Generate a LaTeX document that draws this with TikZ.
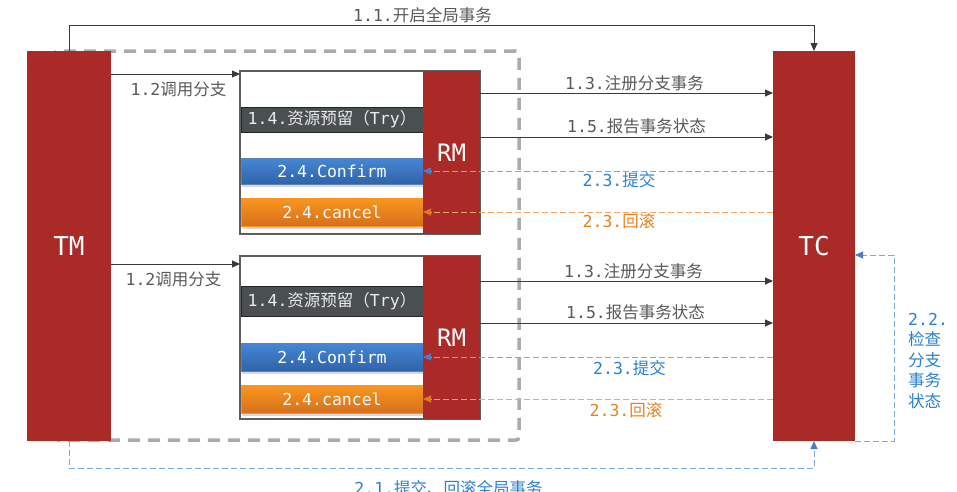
\documentclass[tikz,border=0pt]{standalone}
\usepackage{fontspec}
\setmainfont{DejaVu Sans Mono}
\newfontfamily\cjk{Noto Sans CJK SC}
\usepackage{xcolor}
\usepackage{tikz}
\usetikzlibrary{arrows.meta,shadows}
\definecolor{redC}{HTML}{A92A27}
\definecolor{tryC}{HTML}{4A5051}
\definecolor{blueT}{HTML}{4587D6}
\definecolor{blueB}{HTML}{2F63A8}
\definecolor{orT}{HTML}{FA961F}
\definecolor{orB}{HTML}{D6701C}
\definecolor{grayD}{HTML}{ABABAB}
\definecolor{boxC}{HTML}{5E5E5E}
\definecolor{lineC}{HTML}{3A3A3A}
\definecolor{lineBlue}{HTML}{80A8D8}
\definecolor{tipBlue}{HTML}{4A7EC2}
\definecolor{lineOr}{HTML}{F2A66A}
\definecolor{tipOr}{HTML}{E07A22}
\definecolor{txtC}{HTML}{595959}
\definecolor{txtBlue}{HTML}{2B80CF}
\definecolor{txtOr}{HTML}{E8801F}
\newcommand{\zh}[1]{{\cjk #1}}
\newcommand{\lblfont}{\fontsize{16.5}{20.5}\selectfont}
\newcommand{\lblBegin}{1.1.\zh{开启全局事务}}
\newcommand{\lblCall}{1.2\zh{调用分支}}
\newcommand{\lblReg}{1.3.\zh{注册分支事务}}
\newcommand{\lblTry}{1.4.\zh{资源预留（}Try\zh{）}}
\newcommand{\lblReport}{1.5.\zh{报告事务状态}}
\newcommand{\lblEnd}{2.1.\zh{提交、回滚全局事务}}
\newcommand{\lblCheck}{2.2.\\\zh{检查}\\\zh{分支}\\\zh{事务}\\\zh{状态}}
\newcommand{\lblCommit}{2.3.\zh{提交}}
\newcommand{\lblRollback}{2.3.\zh{回滚}}
\newcommand{\lblConfirm}{2.4.Confirm}
\newcommand{\lblCancel}{2.4.cancel}

\begin{document}
\begin{tikzpicture}[
  x=1pt, y=-1pt,
  >={Triangle[length=8pt,width=7pt]},
  actor/.style  ={fill=redC, text=white, inner sep=0pt, outer sep=0pt,
                  anchor=north west},
  group/.style  ={draw=grayD, line width=3.5pt, dash pattern=on 12pt off 8pt,
                  rounded corners=3pt, anchor=north west, inner sep=0pt,
                  outer sep=0pt, minimum width=464pt, minimum height=389pt},
  branch/.style ={draw=boxC, line width=1.2pt, fill=white, anchor=north west,
                  inner sep=0pt, outer sep=0pt, minimum width=240pt,
                  minimum height=163pt},
  bar/.style    ={anchor=north west, inner sep=0pt, outer sep=0pt,
                  minimum width=182pt, text=white, font=\lblfont},
  trybar/.style ={bar, fill=tryC, draw=black!85, text=white!92!black},
  shad/.style   ={drop shadow={opacity=0.3, shadow xshift=1pt, shadow yshift=-3pt}},
  okbar/.style  ={bar, shad, top color=blueT, bottom color=blueB, draw=blueB!80},
  nobar/.style  ={bar, shad, top color=orT, bottom color=orB, draw=orT},
  flow/.style   ={->, draw=lineC, line width=0.9pt},
  commit/.style ={-{Triangle[length=8pt,width=7pt,color=tipBlue]}, draw=lineBlue,
                  line width=0.9pt, dash pattern=on 6pt off 3pt},
  abort/.style  ={-{Triangle[length=8pt,width=7pt,color=tipOr]}, draw=lineOr,
                  line width=0.9pt, dash pattern=on 6pt off 3pt},
  lbl/.style    ={font=\lblfont, text=txtC, inner sep=2pt},
]
\useasboundingbox (0,0) rectangle (957,491);

% ---- the dashed frame round the branches -----------------------------------
\node[group] (grp) at (55,51) {};

% ---- TM and TC -------------------------------------------------------------
\node[actor, minimum width=84pt, minimum height=390pt,
      font=\fontsize{26}{30}\selectfont] (tm) at (27,51) {TM};
\node[actor, minimum width=82pt, minimum height=390pt,
      font=\fontsize{26}{30}\selectfont] (tc) at (773,51) {TC};

% ---- upper branch ----------------------------------------------------------
\node[branch] (box1) at (240,71) {};
\node[trybar, minimum height=25pt] (try1) at (241,107) {\lblTry};
\node[okbar,  minimum height=26pt] (ok1)  at (241,158) {\lblConfirm};
\node[nobar,  minimum height=28pt] (no1)  at (241,198) {\lblCancel};
\node[actor, minimum width=57pt, minimum height=163pt,
      font=\fontsize{24}{28}\selectfont] (rm1) at (423,71) {RM};

% ---- lower branch ----------------------------------------------------------
\node[branch] (box2) at (240,256) {};
\node[trybar, minimum height=30pt] (try2) at (241,286) {\lblTry};
\node[okbar,  minimum height=28pt] (ok2)  at (241,343) {\lblConfirm};
\node[nobar,  minimum height=28pt] (no2)  at (241,385) {\lblCancel};
\node[actor, minimum width=57pt, minimum height=163pt,
      font=\fontsize{24}{28}\selectfont] (rm2) at (423,256) {RM};

% ---- phase one -------------------------------------------------------------
\draw[flow] (tm.north) -- ++(0,-26) -| (tc.north)
  node[lbl, pos=0.25, above, xshift=-19pt] {\lblBegin};

\draw[flow] (tm.east |- 0,74) -- (box1.west |- 0,74)
  node[lbl, midway, below=5pt, xshift=3pt] {\lblCall};
\draw[flow] (tm.east |- 0,264) -- (box2.west |- 0,264)
  node[lbl, midway, below=5pt, xshift=-2pt] {\lblCall};

\draw[flow] (rm1.east |- 0,93)  -- (tc.west |- 0,93)
  node[lbl, midway, above, xshift=8pt] {\lblReg};
\draw[flow] (rm1.east |- 0,137) -- (tc.west |- 0,137)
  node[lbl, midway, above, xshift=10pt, yshift=1pt] {\lblReport};
\draw[flow] (rm2.east |- 0,281) -- (tc.west |- 0,281)
  node[lbl, midway, above, xshift=7pt] {\lblReg};
\draw[flow] (rm2.east |- 0,323) -- (tc.west |- 0,323)
  node[lbl, midway, above, xshift=9pt, yshift=1pt] {\lblReport};

% ---- phase two -------------------------------------------------------------
\draw[commit] (tm.south) -- ++(0,27) -| (tc.south)
  node[lbl, text=txtBlue, pos=0.25, below=10pt, xshift=7pt] {\lblEnd};

\draw[commit] (tc.south east) -- ++(39,0) |- (tc.east |- 0,255);
\node[lbl, text=txtBlue, align=left, anchor=west] (chk) at (906,361) {\lblCheck};

\draw[commit] (tc.west |- ok1.east) -- (ok1.east)
  node[lbl, text=txtBlue, pos=0.44, below, inner sep=1pt] {\lblCommit};
\draw[abort]  (tc.west |- no1.east) -- (no1.east)
  node[lbl, text=txtOr, pos=0.44, below, inner sep=1pt] {\lblRollback};
\draw[commit] (tc.west |- ok2.east) -- (ok2.east)
  node[lbl, text=txtBlue, pos=0.41, below, inner sep=3pt] {\lblCommit};
\draw[abort]  (tc.west |- no2.east) -- (no2.east)
  node[lbl, text=txtOr, pos=0.42, below, inner sep=3pt] {\lblRollback};

\end{tikzpicture}
\end{document}
